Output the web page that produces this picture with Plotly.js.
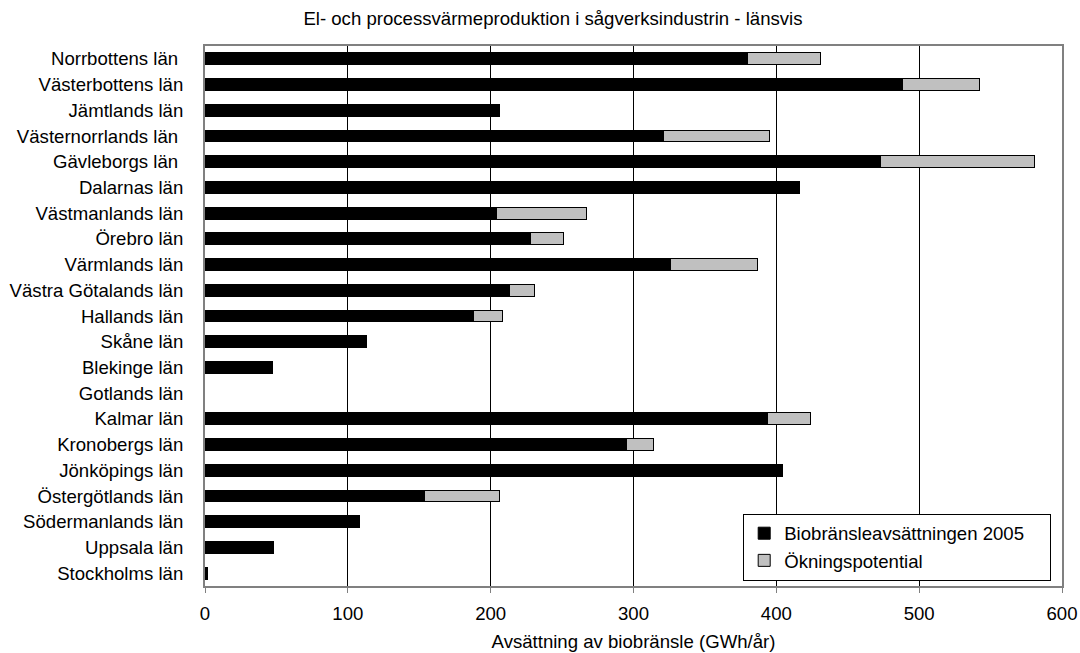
<!DOCTYPE html>
<html>
<head>
<meta charset="utf-8">
<script src="https://cdn.plot.ly/plotly-3.0.1.min.js"></script>
<style>html,body{margin:0;padding:0;background:#fff;}#chart{width:1080px;height:653px;}</style>
</head>
<body>
<div id="chart"></div>
<script>
const counties = ["Norrbottens län\u00a0", "Västerbottens län", "Jämtlands län", "Västernorrlands län\u00a0", "Gävleborgs län\u00a0", "Dalarnas län", "Västmanlands län", "Örebro län", "Värmlands län", "Västra Götalands län", "Hallands län", "Skåne län", "Blekinge län", "Gotlands län", "Kalmar län", "Kronobergs län", "Jönköpings län", "Östergötlands län", "Södermanlands län", "Uppsala län", "Stockholms län"];
const bio2005 = [380, 488, 206, 321, 473, 416, 204, 228, 326, 213, 188, 113, 47, 0, 394, 295, 404, 154, 108, 48, 2];
const potential = [51, 54, 0, 74, 108, 0, 63, 23, 61, 18, 20, 0, 0, 0, 30, 19, 0, 52, 0, 0, 0];
const seriesNames = ["Biobränsleavsättningen 2005", "Ökningspotential"];
const xTicks = [0, 100, 200, 300, 400, 500, 600];

const fontFam = "Liberation Sans, Arial, sans-serif";
const fs = 18.6;
const pad = "\u00a0\u00a0\u00a0\u00a0";
const lw = v => (v > 0 ? 1 : 0);
const traces = [
  {type: "bar", orientation: "h", name: seriesNames[0] + pad, y: counties, x: bio2005,
   marker: {color: "#000000", line: {color: "#000000", width: bio2005.map(lw)}}},
  {type: "bar", orientation: "h", name: seriesNames[1], y: counties, x: potential,
   marker: {color: "#C0C0C0", line: {color: "#000000", width: potential.map(lw)}}}
];
const layout = {
  width: 1080, height: 653,
  margin: {l: 205, r: 18, t: 46, b: 67},
  paper_bgcolor: "#ffffff", plot_bgcolor: "#ffffff",
  barmode: "stack", bargap: 0.54,
  font: {family: fontFam, color: "#000000", size: fs},
  title: {text: "El- och processvärmeproduktion i sågverksindustrin - länsvis", x: 0.512, xanchor: "center", y: 0.971, yanchor: "middle", font: {size: fs, family: fontFam}},
  xaxis: {range: [0, 600], tickvals: xTicks, ticktext: xTicks.map(String), showgrid: true, gridcolor: "#000000", gridwidth: 1,
          showline: true, linecolor: "#808080", linewidth: 2, mirror: true, ticks: "outside", ticklen: 5, tickcolor: "#808080",
          ticklabelstandoff: 5, zeroline: false, tickfont: {size: fs},
          title: {text: "Avsättning av biobränsle (GWh/år)", font: {size: fs}, standoff: 12}},
  yaxis: {type: "category", autorange: "reversed", showgrid: false, showline: true, linecolor: "#808080", linewidth: 2, mirror: true,
          ticks: "", ticklabelstandoff: 16, tickfont: {size: fs}},
  showlegend: true,
  legend: {x: 0.628, y: 0.01, xanchor: "left", yanchor: "bottom", bgcolor: "#ffffff", bordercolor: "#000000", borderwidth: 1,
           font: {size: fs}, traceorder: "normal"}
};
Plotly.newPlot("chart", traces, layout, {displayModeBar: false, staticPlot: true});
</script>
</body>
</html>
